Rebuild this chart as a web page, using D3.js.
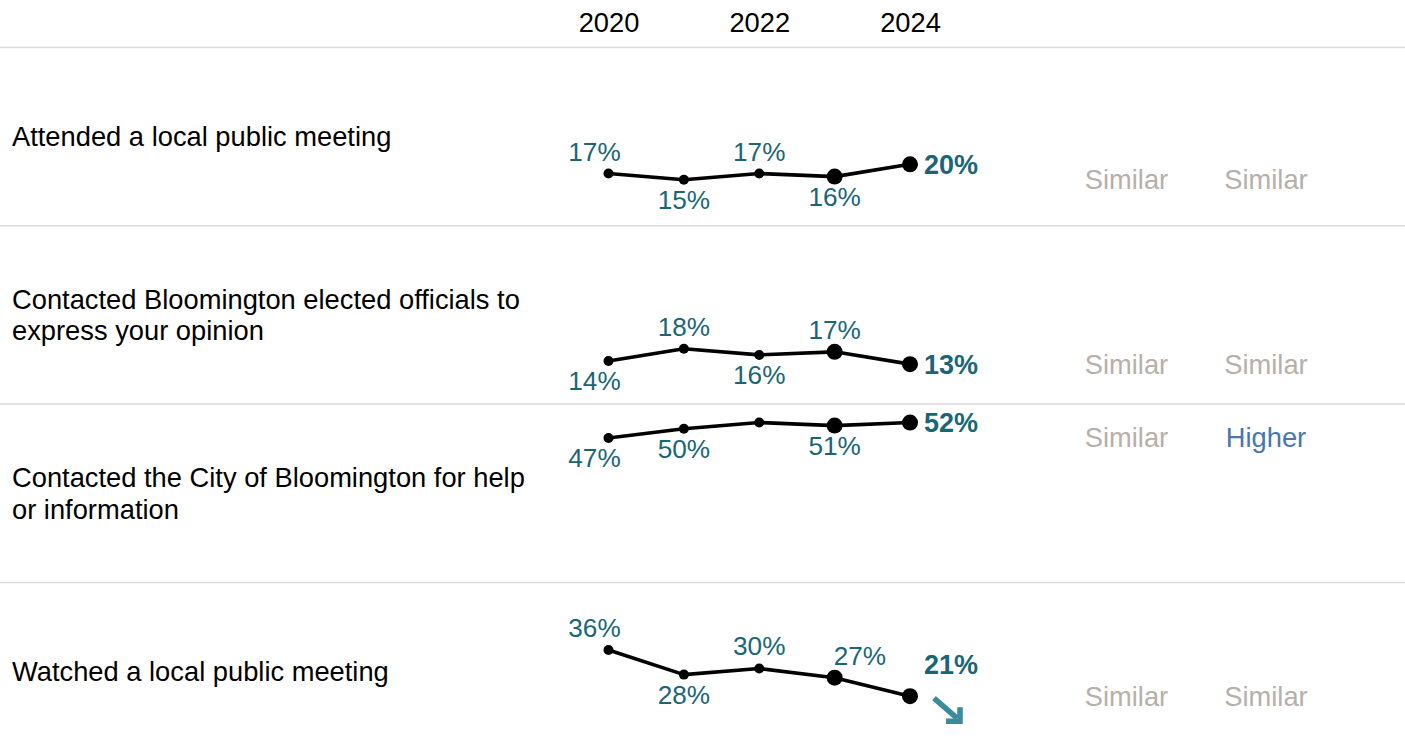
<!DOCTYPE html>
<html>
<head>
<meta charset="utf-8">
<script src="https://cdn.jsdelivr.net/npm/d3@7"></script>
<style>
  html, body { margin: 0; padding: 0; background: #fff; }
  svg { display: block; font-family: "Liberation Sans", Arial, sans-serif; }
</style>
</head>
<body>
<svg id="chart" width="1405" height="756"></svg>
<script>
// ---- data ----
const years = [2020, 2021, 2022, 2023, 2024];
const yearTicks = [2020, 2022, 2024];
const items = [
  "Attended a local public meeting",
  "Contacted Bloomington elected officials to express your opinion",
  "Contacted the City of Bloomington for help or information",
  "Watched a local public meeting"
];
const attended  = [17, 15, 17, 16, 20];
const contactedOfficials = [14, 18, 16, 17, 13];
const contactedCity = [47, 50, 52, 51, 52];
const watched = [36, 28, 30, 27, 21];
const seriesValues = [attended, contactedOfficials, contactedCity, watched];
const trend = [null, null, null, "down"];
const comparisonA = ["Similar", "Similar", "Similar", "Similar"];
const comparisonB = ["Similar", "Similar", "Higher", "Similar"];

// ---- presentation ----
// where each year's value label sits relative to its point (last year is the bold end label)
const labelSide = [
  ["above", "below", "above", "below"],
  ["below", "above", "below", "above"],
  ["below", "below", null, "below"],
  ["above", "below", "above", "aboveRight"]
];
const compareColor = { "Similar": "#b7afaa", "Higher": "#4a77a9", "Lower": "#c0504d" };
const teal = "#1a6675";
const arrowTeal = "#3a8b9d";

const W = 1405;
const headerY = 47.5;
const rowH = 178.3;
const svg = d3.select("#chart");

const x = d3.scaleLinear().domain([2020, 2024]).range([608.5, 910]);
const y = d3.scaleLinear().domain([0, 58]).range([rowH, 0]);

// header with year ticks
const axis = d3.axisTop(x).tickValues(yearTicks).tickFormat(d3.format("d")).tickSize(0).tickPadding(9);
const axisG = svg.append("g").attr("transform", `translate(0,41)`).call(axis);
axisG.select(".domain").remove();
axisG.selectAll("text").attr("font-size", 27.3).attr("fill", "#000")
  .attr("font-family", "'Liberation Sans', Arial, sans-serif");

// row separators
svg.append("line").attr("x1", 0).attr("x2", W).attr("y1", headerY).attr("y2", headerY)
  .attr("stroke", "#d9d9d9").attr("stroke-width", 1.5);

const line = d3.line().x((d, i) => x(years[i])).y(d => y(d));

items.forEach((label, r) => {
  const top = headerY + r * rowH;
  const vals = seriesValues[r];
  const g = svg.append("g").attr("transform", `translate(0,${top})`);

  if (r > 0) {
    g.append("line").attr("x1", 0).attr("x2", W).attr("y1", 0).attr("y2", 0)
      .attr("stroke", "#d9d9d9").attr("stroke-width", 1.5);
  }

  // item label, wrapped and centred vertically in the row
  const words = label.split(" ");
  const lines = [];
  const probe = g.append("text").attr("font-size", 27.3);
  let cur = [];
  words.forEach(w => {
    cur.push(w);
    probe.text(cur.join(" "));
    if (probe.node().getComputedTextLength() > 535 && cur.length > 1) {
      cur.pop();
      lines.push(cur.join(" "));
      cur = [w];
    }
  });
  lines.push(cur.join(" "));
  probe.remove();
  const lh = 31.5;
  const cy = rowH / 2;
  const lbl = g.append("text").attr("font-size", 27.3).attr("fill", "#000");
  lines.forEach((t, i) => {
    lbl.append("tspan").attr("x", 12)
      .attr("y", cy + (i - (lines.length - 1) / 2) * lh)
      .attr("dy", "0.35em").text(t);
  });

  // trend line
  g.append("path").datum(vals).attr("d", line)
    .attr("fill", "none").attr("stroke", "#000").attr("stroke-width", 3.6)
    .attr("stroke-linejoin", "round");

  g.selectAll("circle").data(vals).join("circle")
    .attr("cx", (d, i) => x(years[i]))
    .attr("cy", d => y(d))
    .attr("r", (d, i) => i >= years.length - 2 ? 8 : 5)
    .attr("fill", "#000");

  // value labels for earlier years
  vals.slice(0, -1).forEach((v, i) => {
    const side = labelSide[r][i];
    if (!side) return;
    const px = x(years[i]), py = y(v);
    const t = g.append("text").attr("font-size", 26.2).attr("fill", teal).text(v + "%");
    if (side === "above") {
      t.attr("x", px + (i === 0 ? -14 : 0)).attr("y", py - 13).attr("text-anchor", "middle");
    } else if (side === "below") {
      t.attr("x", px + (i === 0 ? -14 : 0)).attr("y", py + 29).attr("text-anchor", "middle");
    } else if (side === "aboveRight") {
      t.attr("x", px - 1).attr("y", py - 13).attr("text-anchor", "start");
    }
  });

  // bold label for the latest year
  const last = vals[vals.length - 1];
  const lx = x(years[years.length - 1]), ly = y(last);
  const endLabel = g.append("text").attr("font-size", 27).attr("font-weight", "bold")
    .attr("fill", teal).attr("x", lx + 14).text(last + "%");
  if (trend[r]) {
    endLabel.attr("y", ly - 22);
    const dir = trend[r] === "down" ? 1 : -1;
    const a = g.append("g").attr("transform", `translate(${lx + 37},${ly + 14 * dir}) scale(1,${dir})`)
      .attr("fill", "none").attr("stroke", arrowTeal).attr("stroke-width", 5.5);
    a.append("path").attr("d", "M-13,-12 L10,8");
    a.append("path").attr("d", "M13,-3 L13,11 L-1,11").attr("stroke-linejoin", "miter");
  } else {
    endLabel.attr("y", ly).attr("dy", "0.35em");
  }

  // comparison columns, aligned with the row's lowest value
  const cyCmp = y(d3.min(vals));
  [[comparisonA[r], 1126.5], [comparisonB[r], 1266]].forEach(([txt, cx]) => {
    g.append("text").attr("x", cx).attr("y", cyCmp).attr("dy", "0.35em")
      .attr("text-anchor", "middle").attr("font-size", 27.3)
      .attr("fill", compareColor[txt] || "#999").text(txt);
  });
});
</script>
</body>
</html>
